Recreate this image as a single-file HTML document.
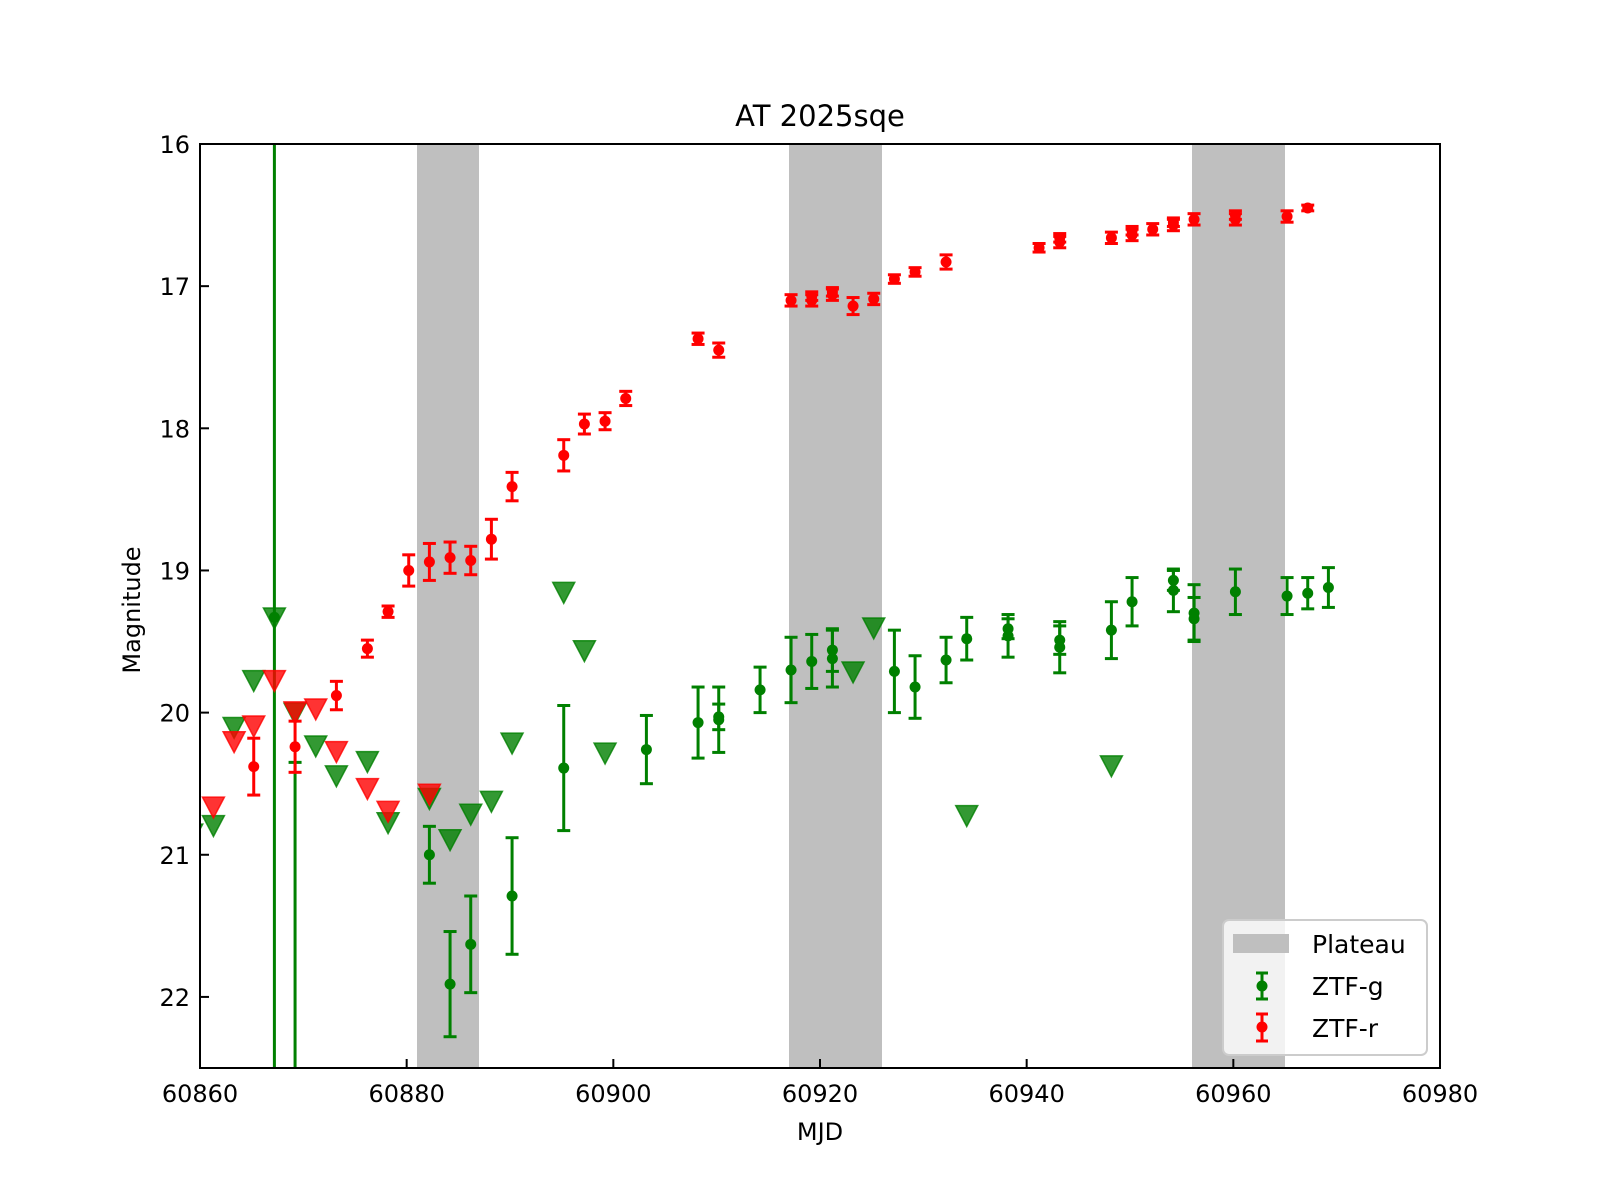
<!DOCTYPE html>
<html><head><meta charset="utf-8"><style>
html,body{margin:0;padding:0;background:#fff;width:1600px;height:1200px;overflow:hidden;}
svg{display:block;font-family:"DejaVu Sans","Liberation Sans",sans-serif;}
</style></head><body>
<svg id="chart" width="1600" height="1200" viewBox="0 0 1600 1200" xmlns="http://www.w3.org/2000/svg">
<rect width="1600" height="1200" fill="#fff"/>
<defs><clipPath id="plotclip"><rect x="200" y="144" width="1240" height="924"/></clipPath></defs>
<g id="bands" clip-path="url(#plotclip)"></g>
<g id="marks" clip-path="url(#plotclip)"></g>
<g id="axes"></g>
<text x="820" y="126" font-size="29" text-anchor="middle">AT 2025sqe</text>
<text x="820" y="1140" font-size="24" text-anchor="middle">MJD</text>
<text x="0" y="0" font-size="24" text-anchor="middle" transform="translate(140,610) rotate(-90)">Magnitude</text>
<g>
<rect x="1223" y="920" width="204" height="135" rx="6" fill="#fff" fill-opacity="0.8" stroke="#ccc" stroke-width="2"/>
<rect x="1233" y="934" width="56" height="19" fill="#bfbfbf"/>
<text x="1312" y="953" font-size="25">Plateau</text>
<g stroke="green" stroke-width="3"><line x1="1262" y1="973" x2="1262" y2="999"/><line x1="1256" y1="973" x2="1268" y2="973"/><line x1="1256" y1="999" x2="1268" y2="999"/></g>
<circle cx="1262" cy="986" r="5.5" fill="green"/>
<text x="1312" y="995" font-size="25">ZTF-g</text>
<g stroke="red" stroke-width="3"><line x1="1262" y1="1014" x2="1262" y2="1041"/><line x1="1256" y1="1014" x2="1268" y2="1014"/><line x1="1256" y1="1041" x2="1268" y2="1041"/></g>
<circle cx="1262" cy="1027" r="5.5" fill="red"/>
<text x="1312" y="1037" font-size="25">ZTF-r</text>
</g>
</svg>
<script>
const plateauStart = [60881, 60917, 60956];
const plateauEnd = [60887, 60926, 60965];
const rMjd = [60865.2,60869.2,60873.2,60876.2,60878.2,60880.2,60882.2,60884.2,60886.2,60888.2,60890.2,60895.2,60897.2,60899.2,60901.2,60908.2,60910.2,60917.2,60919.2,60919.2,60921.2,60921.2,60923.2,60925.2,60927.2,60929.2,60932.2,60941.2,60943.2,60943.2,60948.2,60950.2,60950.2,60952.2,60954.2,60954.2,60956.2,60960.2,60960.2,60965.2,60967.2];
const rMag = [20.38,20.24,19.88,19.55,19.29,19.00,18.94,18.91,18.93,18.78,18.41,18.19,17.97,17.95,17.79,17.37,17.45,17.10,17.10,17.07,17.06,17.04,17.14,17.09,16.95,16.90,16.83,16.73,16.69,16.66,16.66,16.64,16.61,16.60,16.57,16.55,16.53,16.53,16.50,16.51,16.45];
const rErr = [0.2,0.18,0.1,0.06,0.04,0.11,0.13,0.11,0.1,0.14,0.1,0.11,0.07,0.06,0.05,0.04,0.05,0.04,0.04,0.03,0.04,0.03,0.06,0.04,0.03,0.03,0.05,0.03,0.04,0.03,0.04,0.04,0.03,0.04,0.04,0.03,0.04,0.04,0.03,0.04,0.02];
const gMjd = [60867.2,60869.2,60882.2,60884.2,60886.2,60890.2,60895.2,60903.2,60908.2,60910.2,60910.2,60914.2,60917.2,60919.2,60921.2,60921.2,60927.2,60929.2,60932.2,60934.2,60938.2,60938.2,60943.2,60943.2,60948.2,60950.2,60954.2,60954.2,60956.2,60956.2,60960.2,60965.2,60967.2,60969.2];
const gMag = [19.33,24.0,21.0,21.91,21.63,21.29,20.39,20.26,20.07,20.05,20.03,19.84,19.70,19.64,19.56,19.62,19.71,19.82,19.63,19.48,19.46,19.41,19.54,19.49,19.42,19.22,19.14,19.07,19.30,19.34,19.15,19.18,19.16,19.12];
const gErr = [6,3.65,0.2,0.37,0.34,0.41,0.44,0.24,0.25,0.23,0.09,0.16,0.23,0.19,0.15,0.2,0.29,0.22,0.16,0.15,0.15,0.07,0.18,0.1,0.2,0.17,0.15,0.07,0.2,0.15,0.16,0.13,0.11,0.14];
const rLimMjd = [60861.3,60863.3,60865.2,60867.2,60869.2,60871.2,60873.2,60876.2,60878.2,60882.2];
const rLimMag = [20.66,20.20,20.09,19.77,19.99,19.97,20.27,20.53,20.69,20.57];
const gLimMjd = [60859.2,60861.3,60863.3,60865.2,60867.2,60869.2,60871.2,60873.2,60876.2,60878.2,60882.2,60884.2,60886.2,60888.2,60890.2,60895.2,60897.2,60899.2,60923.2,60925.2,60934.2,60948.2];
const gLimMag = [20.85,20.79,20.10,19.77,19.33,20.0,20.23,20.44,20.34,20.77,20.60,20.89,20.71,20.62,20.21,19.15,19.56,20.28,19.71,19.40,20.72,20.37];
const xTicks = [60860,60880,60900,60920,60940,60960,60980];
const yTicks = [16,17,18,19,20,21,22];

const X0=200,X1=1440,Y0=144,Y1=1068,XMIN=60860,XMAX=60980,YMIN=16,YMAX=22.5;
const xs = v => X0 + (v-XMIN)/(XMAX-XMIN)*(X1-X0);
const ys = v => Y0 + (v-YMIN)/(YMAX-YMIN)*(Y1-Y0);
const clampY = y => Math.max(Y0-20, Math.min(Y1+20, y));
const NS="http://www.w3.org/2000/svg";
function mk(tag, attrs, parent){const e=document.createElementNS(NS,tag);for(const k in attrs)e.setAttribute(k,attrs[k]);parent.appendChild(e);return e;}
const bands=document.getElementById('bands'), marks=document.getElementById('marks'), axes=document.getElementById('axes');

for(let i=0;i<plateauStart.length;i++){
  const r=mk('rect',{x:xs(plateauStart[i]),y:Y0,width:xs(plateauEnd[i])-xs(plateauStart[i]),height:Y1-Y0,fill:'#bfbfbf'},bands);
  
  
}
function tri(mjd,mag,color,name){
  const cx=xs(mjd), cy=ys(mag), s=11;
  const p=mk('polygon',{points:`${cx-s},${cy-s*0.85} ${cx+s},${cy-s*0.85} ${cx},${cy+s*1.05}`,fill:color,'fill-opacity':0.8,stroke:color,'stroke-opacity':0.8,'stroke-width':1.5},marks);
  
  
}
function errpt(mjd,mag,err,color,name){
  const g=mk('g',{},marks);
  
  
  const cx=xs(mjd), ra=ys(mag-err), rb=ys(mag+err);
  const a=clampY(ra), b=clampY(rb);
  mk('line',{x1:cx,y1:a,x2:cx,y2:b,stroke:color,'stroke-width':3},g);
  if(ra===a) mk('line',{x1:cx-6.5,y1:a,x2:cx+6.5,y2:a,stroke:color,'stroke-width':3},g);
  if(rb===b) mk('line',{x1:cx-6.5,y1:b,x2:cx+6.5,y2:b,stroke:color,'stroke-width':3},g);
  const cy=ys(mag);
  if(cy>=Y0-10 && cy<=Y1+10) mk('circle',{cx:cx,cy:cy,r:5.5,fill:color},g);
}
for(let i=0;i<gLimMjd.length;i++) tri(gLimMjd[i],gLimMag[i],'green','ztf-g-upper-limit');
for(let i=0;i<gMjd.length;i++) errpt(gMjd[i],gMag[i],gErr[i],'green','ztf-g-point');
for(let i=0;i<rLimMjd.length;i++) tri(rLimMjd[i],rLimMag[i],'red','ztf-r-upper-limit');
for(let i=0;i<rMjd.length;i++) errpt(rMjd[i],rMag[i],rErr[i],'red','ztf-r-point');

const frame=mk('rect',{x:X0,y:Y0,width:X1-X0,height:Y1-Y0,fill:'none',stroke:'#000','stroke-width':2},axes);


xTicks.forEach(t=>{
  const x=xs(t);
  mk('line',{x1:x,y1:Y1,x2:x,y2:Y1-9,stroke:'#000','stroke-width':2},axes);
  const tx=mk('text',{x:x,y:Y1+34,'font-size':24,'text-anchor':'middle'},axes);
  tx.textContent=t;
  
  
});
yTicks.forEach(t=>{
  const y=ys(t);
  mk('line',{x1:X0,y1:y,x2:X0+9,y2:y,stroke:'#000','stroke-width':2},axes);
  const tx=mk('text',{x:X0-10,y:y+9,'font-size':24,'text-anchor':'end'},axes);
  tx.textContent=t;
  
  
});
</script>
</body></html>
